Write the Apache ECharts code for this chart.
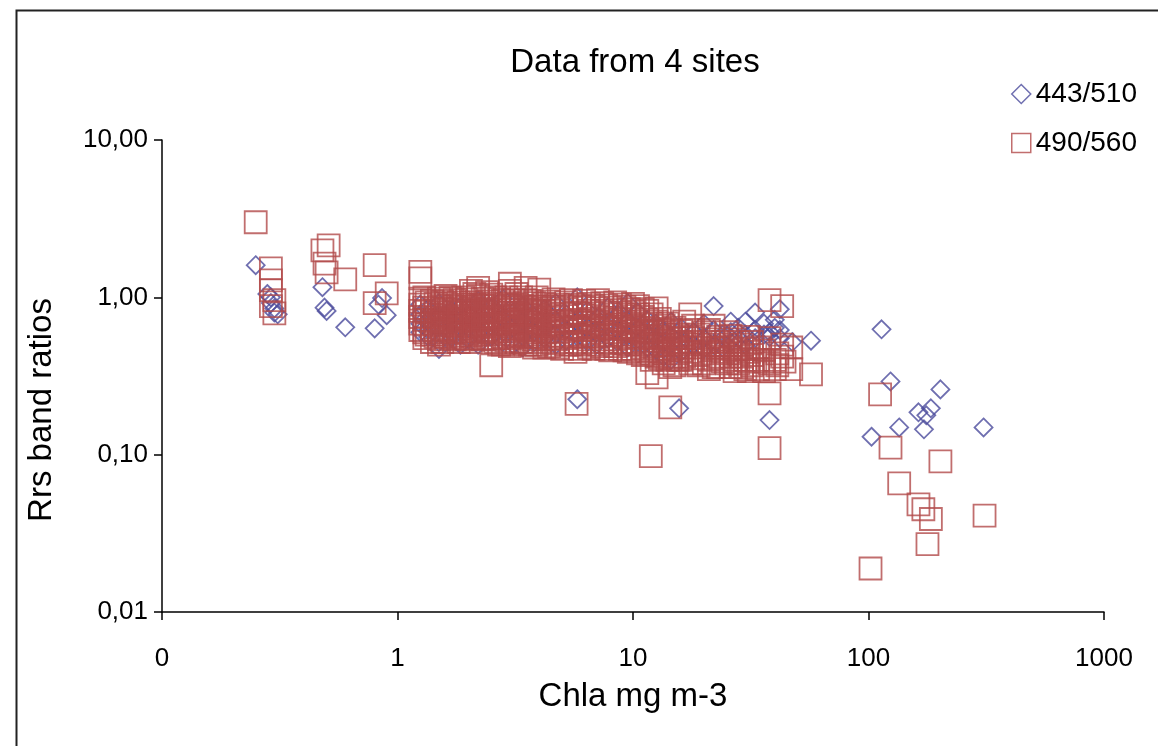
<!DOCTYPE html>
<html>
<head>
    <meta charset="utf-8">
    <title>Data from 4 sites</title>
    <script src="https://cdn.jsdelivr.net/npm/echarts@6/dist/echarts.min.js"></script>
    <style>
        html, body {
            margin: 0;
            padding: 0;
            background: #ffffff;
        }

        #chart {
            width: 1158px;
            height: 746px;
        }
    </style>
</head>
<body>
<div id="chart"></div>
<script>
    // 443/510 ratio vs Chla  [chla, ratio]
    var diamondLow = [
        [0.25, 1.6], [0.28, 1.05], [0.29, 1.0], [0.29, 0.92], [0.30, 0.85], [0.30, 0.8], [0.31, 0.78],
        [0.48, 1.16], [0.49, 0.86], [0.50, 0.82], [0.60, 0.645], [0.80, 0.635], [0.90, 0.77],
        [0.86, 0.99], [0.83, 0.9]
    ];
    var diamondMain = [
        [1.25, 0.9], [1.25, 0.78], [1.25, 0.68], [1.25, 0.6],
        [1.35, 0.85], [1.35, 0.72], [1.35, 0.62], [1.35, 0.56],
        [1.5, 0.92], [1.5, 0.75], [1.5, 0.65], [1.5, 0.52], [1.5, 0.47],
        [1.7, 0.82], [1.7, 0.7], [1.7, 0.6], [1.7, 0.55],
        [1.85, 0.88], [1.85, 0.66], [1.85, 0.5],
        [2.0, 0.78], [2.0, 0.64], [2.0, 0.54],
        [2.2, 0.95], [2.2, 0.7], [2.2, 0.58], [2.2, 0.5],
        [2.5, 0.85], [2.5, 0.66], [2.5, 0.56],
        [2.8, 0.98], [2.8, 0.74], [2.8, 0.6], [2.8, 0.52],
        [3.1, 0.8], [3.1, 0.64], [3.1, 0.5],
        [3.4, 0.88], [3.4, 0.7], [3.4, 0.56], [3.4, 0.48],
        [3.8, 0.76], [3.8, 0.6], [3.8, 0.52],
        [4.2, 0.84], [4.2, 0.66], [4.2, 0.55],
        [4.7, 0.92], [4.7, 0.72], [4.7, 0.58], [4.7, 0.5],
        [5.2, 0.78], [5.2, 0.62], [5.2, 0.53],
        [5.8, 1.0], [5.8, 0.7], [5.8, 0.56], [5.8, 0.225],
        [6.4, 0.82], [6.4, 0.64], [6.4, 0.52],
        [7.0, 0.74], [7.0, 0.6], [7.0, 0.5],
        [7.8, 0.86], [7.8, 0.66], [7.8, 0.55],
        [8.6, 0.78], [8.6, 0.62], [8.6, 0.52],
        [9.5, 0.92], [9.5, 0.7], [9.5, 0.57], [9.5, 0.48],
        [10.5, 0.8], [10.5, 0.64], [10.5, 0.52],
        [11.5, 0.72], [11.5, 0.58], [11.5, 0.48],
        [12.5, 0.68], [12.5, 0.56], [12.5, 0.46],
        [13.5, 0.62], [13.5, 0.52], [13.5, 0.42],
        [14.5, 0.7], [14.5, 0.57], [14.5, 0.4], [15.7, 0.197],
        [16, 0.64], [16, 0.52], [16, 0.45],
        [18, 0.6], [18, 0.5],
        [20, 0.68], [20, 0.55], [20, 0.47],
        [22, 0.88], [22, 0.62], [22, 0.5],
        [24, 0.58], [24, 0.48],
        [26, 0.7], [26, 0.6], [26, 0.52],
        [28, 0.64], [28, 0.55],
        [30, 0.7], [30, 0.58], [30, 0.5],
        [33, 0.8], [33, 0.62], [33, 0.55],
        [36, 0.68], [36, 0.58],
        [38, 0.166], [38, 0.6], [38, 0.56],
        [40, 0.72], [40, 0.64],
        [42, 0.84], [42, 0.62], [42, 0.55],
        [47.5, 0.52], [57, 0.53]
    ];
    var diamondHigh = [
        [113.6, 0.626], [124, 0.292], [202, 0.26], [163, 0.186], [184, 0.197], [176, 0.178],
        [135, 0.149], [172, 0.145], [103, 0.13], [308, 0.149]
    ];

    // 490/560 ratio vs Chla  [chla, ratio]
    var squareLow = [
        [0.25, 3.0], [0.29, 1.53], [0.29, 1.28], [0.29, 1.11], [0.30, 0.96], [0.30, 0.79], [0.29, 0.88],
        [0.48, 1.99], [0.51, 2.14], [0.49, 1.64], [0.50, 1.44], [0.60, 1.30], [0.80, 1.6],
        [0.90, 1.06], [0.80, 0.92]
    ];
    var squareMain = [
        [1.25, 1.45], [1.25, 1.32], [1.25, 0.98], [1.25, 0.9], [1.25, 0.82], [1.25, 0.75], [1.25, 0.68], [1.25, 0.62],
        [1.3, 1.0], [1.3, 0.86], [1.3, 0.72], [1.3, 0.6], [1.3, 0.55],
        [1.4, 0.95], [1.4, 0.85], [1.4, 0.78], [1.4, 0.7], [1.4, 0.64], [1.4, 0.58], [1.4, 0.52],
        [1.5, 0.98], [1.5, 0.88], [1.5, 0.8], [1.5, 0.72], [1.5, 0.66], [1.5, 0.6], [1.5, 0.54], [1.5, 0.5],
        [1.6, 1.02], [1.6, 0.92], [1.6, 0.84], [1.6, 0.76], [1.6, 0.69], [1.6, 0.62], [1.6, 0.56],
        [1.75, 0.96], [1.75, 0.87], [1.75, 0.8], [1.75, 0.73], [1.75, 0.66], [1.75, 0.6], [1.75, 0.54],
        [1.9, 1.0], [1.9, 0.9], [1.9, 0.82], [1.9, 0.74], [1.9, 0.68], [1.9, 0.61], [1.9, 0.55],
        [2.05, 1.1], [2.05, 0.93], [2.05, 0.85], [2.05, 0.77], [2.05, 0.7], [2.05, 0.63], [2.05, 0.57], [2.05, 0.52],
        [2.2, 1.15], [2.2, 1.02], [2.2, 0.88], [2.2, 0.8], [2.2, 0.72], [2.2, 0.65], [2.2, 0.58],
        [2.4, 1.08], [2.4, 0.94], [2.4, 0.84], [2.4, 0.76], [2.4, 0.68], [2.4, 0.62], [2.4, 0.55], [2.5, 0.37],
        [2.6, 1.0], [2.6, 0.88], [2.6, 0.8], [2.6, 0.72], [2.6, 0.65], [2.6, 0.58], [2.6, 0.52],
        [2.8, 0.95], [2.8, 0.86], [2.8, 0.77], [2.8, 0.7], [2.8, 0.63], [2.8, 0.56], [2.8, 0.5],
        [3.0, 1.22], [3.0, 1.1], [3.0, 0.92], [3.0, 0.83], [3.0, 0.75], [3.0, 0.68], [3.0, 0.61], [3.0, 0.55], [3.0, 0.49],
        [3.2, 1.05], [3.2, 0.9], [3.2, 0.8], [3.2, 0.72], [3.2, 0.65], [3.2, 0.58], [3.2, 0.52],
        [3.5, 1.15], [3.5, 0.96], [3.5, 0.86], [3.5, 0.77], [3.5, 0.69], [3.5, 0.62], [3.5, 0.56], [3.5, 0.5],
        [3.8, 0.92], [3.8, 0.82], [3.8, 0.74], [3.8, 0.67], [3.8, 0.6], [3.8, 0.54], [3.8, 0.48],
        [4.0, 1.12], [4.0, 0.88], [4.0, 0.8], [4.0, 0.72], [4.0, 0.65], [4.0, 0.58], [4.0, 0.52],
        [4.4, 0.94], [4.4, 0.85], [4.4, 0.76], [4.4, 0.68], [4.4, 0.61], [4.4, 0.55], [4.4, 0.49],
        [4.8, 0.9], [4.8, 0.82], [4.8, 0.74], [4.8, 0.66], [4.8, 0.6], [4.8, 0.54], [4.8, 0.48],
        [5.2, 0.93], [5.2, 0.84], [5.2, 0.76], [5.2, 0.68], [5.2, 0.61], [5.2, 0.55], [5.2, 0.5],
        [5.7, 0.9], [5.7, 0.8], [5.7, 0.72], [5.7, 0.65], [5.7, 0.58], [5.7, 0.52], [5.7, 0.45], [5.76, 0.21],
        [6.2, 0.95], [6.2, 0.86], [6.2, 0.77], [6.2, 0.69], [6.2, 0.62], [6.2, 0.56], [6.2, 0.5],
        [6.8, 0.88], [6.8, 0.79], [6.8, 0.71], [6.8, 0.64], [6.8, 0.57], [6.8, 0.52], [6.8, 0.47],
        [7.4, 0.92], [7.4, 0.82], [7.4, 0.74], [7.4, 0.66], [7.4, 0.6], [7.4, 0.54], [7.4, 0.49],
        [8.0, 0.86], [8.0, 0.78], [8.0, 0.7], [8.0, 0.63], [8.0, 0.57], [8.0, 0.51], [8.0, 0.46],
        [8.8, 0.9], [8.8, 0.8], [8.8, 0.72], [8.8, 0.65], [8.8, 0.58], [8.8, 0.52], [8.8, 0.47],
        [9.6, 0.84], [9.6, 0.76], [9.6, 0.68], [9.6, 0.61], [9.6, 0.55], [9.6, 0.5], [9.6, 0.45],
        [10.5, 0.88], [10.5, 0.78], [10.5, 0.7], [10.5, 0.62], [10.5, 0.56], [10.5, 0.5], [10.5, 0.44],
        [11.5, 0.82], [11.5, 0.72], [11.5, 0.64], [11.5, 0.57], [11.5, 0.51], [11.5, 0.46], [11.5, 0.33],
        [11.9, 0.098],
        [12.6, 0.85], [12.6, 0.7], [12.6, 0.6], [12.6, 0.53], [12.6, 0.47], [12.6, 0.42], [12.6, 0.31],
        [13.5, 0.66], [13.5, 0.58], [13.5, 0.5], [13.5, 0.44], [13.5, 0.38],
        [14.4, 0.2], [14.4, 0.62], [14.4, 0.54], [14.4, 0.47], [14.4, 0.41], [14.4, 0.36],
        [15.5, 0.58], [15.5, 0.5], [15.5, 0.44], [15.5, 0.4],
        [16.5, 0.7], [16.5, 0.55], [16.5, 0.48], [16.5, 0.42],
        [17.5, 0.78], [17.5, 0.62], [17.5, 0.52], [17.5, 0.45], [17.5, 0.38],
        [19, 0.58], [19, 0.5], [19, 0.43], [19, 0.37],
        [21, 0.62], [21, 0.52], [21, 0.46], [21, 0.4], [21, 0.35],
        [23, 0.56], [23, 0.48], [23, 0.42], [23, 0.36],
        [25, 0.6], [25, 0.5], [25, 0.44], [25, 0.38],
        [27, 0.54], [27, 0.46], [27, 0.4], [27, 0.34],
        [29, 0.5], [29, 0.42], [29, 0.36],
        [31, 0.56], [31, 0.45], [31, 0.39], [31, 0.34],
        [34, 0.48], [34, 0.4], [34, 0.35],
        [38, 0.96], [38, 0.55], [38, 0.38], [38, 0.245], [38, 0.11],
        [40, 0.4], [40, 0.35],
        [43, 0.88], [43, 0.5], [43, 0.42],
        [47, 0.48], [47, 0.35], [57, 0.324]
    ];
    // second pass over the dense band, between the columns above
    var squareDense = [
        [1.33, 0.93], [1.33, 0.81], [1.33, 0.67], [1.33, 0.58],
        [1.45, 0.91], [1.45, 0.83], [1.45, 0.74], [1.45, 0.68], [1.45, 0.62], [1.45, 0.56],
        [1.55, 0.94], [1.55, 0.85], [1.55, 0.77], [1.55, 0.7], [1.55, 0.63], [1.55, 0.58], [1.55, 0.52],
        [1.68, 0.99], [1.68, 0.89], [1.68, 0.81], [1.68, 0.73], [1.68, 0.67], [1.68, 0.6], [1.68, 0.55],
        [1.82, 0.93], [1.82, 0.84], [1.82, 0.76], [1.82, 0.7], [1.82, 0.63], [1.82, 0.57], [1.82, 0.52],
        [1.97, 0.97], [1.97, 0.87], [1.97, 0.79], [1.97, 0.72], [1.97, 0.65], [1.97, 0.59], [1.97, 0.54],
        [2.12, 1.05], [2.12, 0.9], [2.12, 0.82], [2.12, 0.74], [2.12, 0.67], [2.12, 0.61], [2.12, 0.55],
        [2.3, 0.98], [2.3, 0.89], [2.3, 0.81], [2.3, 0.73], [2.3, 0.66], [2.3, 0.6], [2.3, 0.54],
        [2.5, 1.04], [2.5, 0.91], [2.5, 0.82], [2.5, 0.74], [2.5, 0.67], [2.5, 0.6], [2.5, 0.54],
        [2.7, 0.97], [2.7, 0.84], [2.7, 0.75], [2.7, 0.68], [2.7, 0.61], [2.7, 0.55], [2.7, 0.5],
        [2.9, 1.0], [2.9, 0.9], [2.9, 0.8], [2.9, 0.73], [2.9, 0.66], [2.9, 0.59], [2.9, 0.53],
        [3.1, 0.96], [3.1, 0.86], [3.1, 0.77], [3.1, 0.7], [3.1, 0.63], [3.1, 0.57], [3.1, 0.51],
        [3.35, 1.0], [3.35, 0.88], [3.35, 0.79], [3.35, 0.71], [3.35, 0.64], [3.35, 0.57], [3.35, 0.52],
        [3.65, 0.95], [3.65, 0.84], [3.65, 0.76], [3.65, 0.69], [3.65, 0.62], [3.65, 0.56], [3.65, 0.5],
        [3.9, 1.0], [3.9, 0.87], [3.9, 0.78], [3.9, 0.7], [3.9, 0.63], [3.9, 0.56], [3.9, 0.5],
        [4.2, 0.91], [4.2, 0.82], [4.2, 0.74], [4.2, 0.66], [4.2, 0.6], [4.2, 0.54], [4.2, 0.48],
        [4.6, 0.97], [4.6, 0.87], [4.6, 0.78], [4.6, 0.7], [4.6, 0.63], [4.6, 0.57], [4.6, 0.51],
        [5.0, 0.88], [5.0, 0.79], [5.0, 0.71], [5.0, 0.64], [5.0, 0.57], [5.0, 0.52], [5.0, 0.47],
        [5.45, 0.96], [5.45, 0.86], [5.45, 0.78], [5.45, 0.7], [5.45, 0.63], [5.45, 0.56], [5.45, 0.5],
        [5.95, 0.88], [5.95, 0.79], [5.95, 0.71], [5.95, 0.64], [5.95, 0.57], [5.95, 0.51], [5.95, 0.47],
        [6.5, 0.91], [6.5, 0.82], [6.5, 0.73], [6.5, 0.66], [6.5, 0.59], [6.5, 0.54], [6.5, 0.48],
        [7.1, 0.96], [7.1, 0.85], [7.1, 0.76], [7.1, 0.68], [7.1, 0.62], [7.1, 0.56], [7.1, 0.5],
        [7.7, 0.89], [7.7, 0.8], [7.7, 0.72], [7.7, 0.64], [7.7, 0.58], [7.7, 0.52], [7.7, 0.47],
        [8.4, 0.93], [8.4, 0.83], [8.4, 0.74], [8.4, 0.67], [8.4, 0.6], [8.4, 0.54], [8.4, 0.49],
        [9.2, 0.87], [9.2, 0.78], [9.2, 0.7], [9.2, 0.63], [9.2, 0.56], [9.2, 0.51], [9.2, 0.46],
        [10, 0.91], [10, 0.81], [10, 0.73], [10, 0.65], [10, 0.58], [10, 0.52], [10, 0.47],
        [11, 0.84], [11, 0.75], [11, 0.67], [11, 0.6], [11, 0.53], [11, 0.48], [11, 0.43],
        [12, 0.78], [12, 0.68], [12, 0.61], [12, 0.55], [12, 0.49], [12, 0.44], [12, 0.4],
        [13, 0.73], [13, 0.63], [13, 0.56], [13, 0.5], [13, 0.45], [13, 0.41],
        [14, 0.68], [14, 0.6], [14, 0.52], [14, 0.46], [14, 0.4],
        [15, 0.64], [15, 0.55], [15, 0.48], [15, 0.42], [15, 0.37],
        [16, 0.61], [16, 0.52], [16, 0.46], [16, 0.4],
        [18, 0.66], [18, 0.55], [18, 0.48], [18, 0.41],
        [20, 0.6], [20, 0.5], [20, 0.44], [20, 0.38],
        [22, 0.66], [22, 0.54], [22, 0.47], [22, 0.41], [22, 0.36],
        [24, 0.52], [24, 0.45], [24, 0.39],
        [26, 0.57], [26, 0.48], [26, 0.42], [26, 0.36],
        [28, 0.52], [28, 0.44], [28, 0.38],
        [30, 0.47], [30, 0.4], [30, 0.35],
        [32, 0.52], [32, 0.43], [32, 0.37],
        [36, 0.46], [36, 0.39], [36, 0.34],
        [41, 0.44], [41, 0.37], [44, 0.39]
    ];
    var squareHigh = [
        [112, 0.242], [124, 0.111], [202, 0.0906], [135, 0.0657], [163, 0.0483], [171, 0.045],
        [184, 0.039], [178, 0.027], [311, 0.041], [102, 0.0189]
    ];

    var xTicks = [0.1, 1, 10, 100, 1000];
    var yTicks = [0.01, 0.1, 1, 10];

    var blue = '#4b4b9c';
    var red = '#b24a4a';
    var font = 'Liberation Sans, Arial, sans-serif';

    var chart = echarts.init(document.getElementById('chart'), null, {renderer: 'canvas'});

    var option = {
        animation: false,
        backgroundColor: '#ffffff',
        textStyle: {
            fontFamily: font,
            color: '#000'
        },
        title: {
            text: 'Data from 4 sites',
            left: 630,
            top: 41,
            textAlign: 'center',
            textStyle: {
                fontSize: 33,
                fontWeight: 'normal',
                fontFamily: font,
                color: '#000'
            }
        },
        legend: {
            orient: 'vertical',
            left: 1006,
            top: 75,
            itemGap: 21,
            itemWidth: 19,
            itemHeight: 19,
            textStyle: {
                fontSize: 28,
                fontFamily: font,
                color: '#000'
            },
            data: [
                {
                    name: '443/510',
                    icon: 'diamond',
                    itemStyle: {color: 'rgba(0,0,0,0)', borderColor: blue, borderWidth: 1.5}
                },
                {
                    name: '490/560',
                    icon: 'rect',
                    itemStyle: {color: 'rgba(0,0,0,0)', borderColor: red, borderWidth: 1.5}
                }
            ]
        },
        grid: {
            left: 162,
            right: 54,
            top: 140,
            bottom: 134,
            containLabel: false
        },
        xAxis: {
            type: 'log',
            logBase: 10,
            min: xTicks[0],
            max: xTicks[xTicks.length - 1],
            name: 'Chla mg m-3',
            nameLocation: 'middle',
            nameGap: 68,
            nameTextStyle: {fontSize: 33, fontFamily: font, color: '#000'},
            axisLine: {lineStyle: {color: '#000', width: 1.5}},
            axisTick: {length: 8, lineStyle: {color: '#000', width: 1.5}},
            axisLabel: {
                fontSize: 26,
                fontFamily: font,
                color: '#000',
                margin: 34,
                formatter: function (v) {
                    return v < 1 ? '0' : String(Math.round(v));
                }
            },
            splitLine: {show: false}
        },
        yAxis: {
            type: 'log',
            logBase: 10,
            min: yTicks[0],
            max: yTicks[yTicks.length - 1],
            axisLine: {lineStyle: {color: '#000', width: 1.5}},
            axisTick: {length: 8, lineStyle: {color: '#000', width: 1.5}},
            axisLabel: {
                fontSize: 26,
                fontFamily: font,
                color: '#000',
                margin: 14,
                formatter: function (v) {
                    return v.toFixed(2).replace('.', ',');
                }
            },
            splitLine: {show: false}
        },
        graphic: [
            {
                type: 'rect',
                left: 14,
                top: 8,
                shape: {width: 1160, height: 760},
                style: {fill: 'none', stroke: '#222', lineWidth: 2},
                silent: true
            },
            {
                // y axis title, sits a bit below the middle of the plot
                type: 'text',
                x: 42,
                y: 410,
                rotation: Math.PI / 2,
                style: {
                    text: 'Rrs band ratios',
                    fontSize: 33,
                    fontFamily: font,
                    fill: '#000',
                    textAlign: 'center',
                    textVerticalAlign: 'middle'
                },
                silent: true
            }
        ],
        series: [
            {
                name: '443/510',
                type: 'scatter',
                symbol: 'diamond',
                symbolSize: 18,
                itemStyle: {color: 'rgba(0,0,0,0)', borderColor: blue, borderWidth: 1.8},
                data: diamondLow.concat(diamondMain, diamondHigh)
            },
            {
                name: '490/560',
                type: 'scatter',
                symbol: 'rect',
                symbolSize: 22,
                itemStyle: {color: 'rgba(0,0,0,0)', borderColor: red, borderWidth: 1.8},
                data: squareLow.concat(squareMain, squareDense, squareHigh)
            }
        ]
    };
    chart.setOption(option);
</script>
</body>
</html>
